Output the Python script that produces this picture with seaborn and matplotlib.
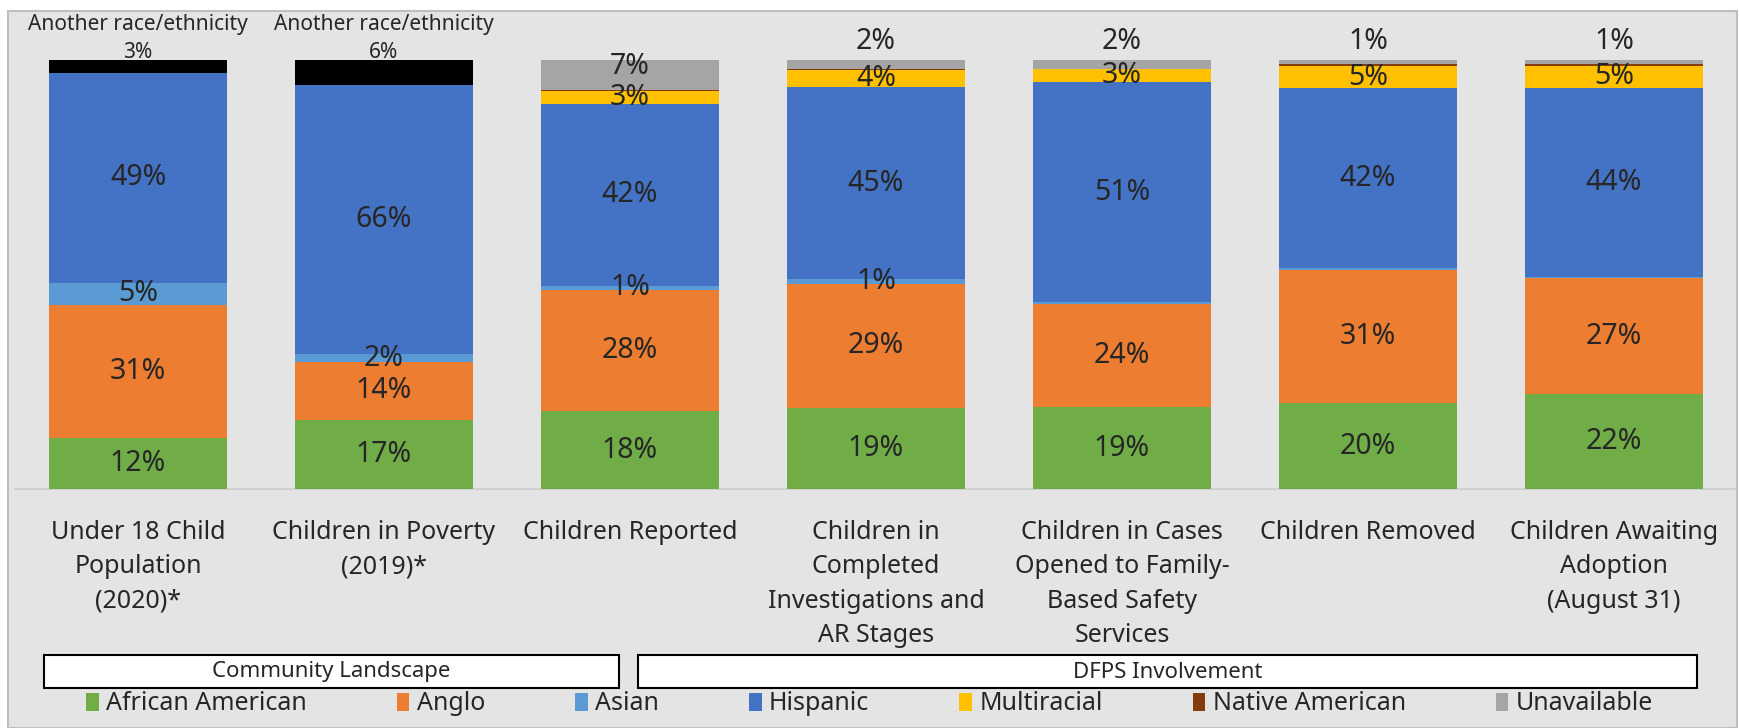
import numpy as np
import pandas as pd
import matplotlib.pyplot as plt
import seaborn as sns
from matplotlib.patches import Rectangle, Patch

categories = [
    "Under 18 Child\nPopulation\n(2020)*",
    "Children in Poverty\n(2019)*",
    "Children Reported",
    "Children in\nCompleted\nInvestigations and\nAR Stages",
    "Children in Cases\nOpened to Family-\nBased Safety\nServices",
    "Children Removed",
    "Children Awaiting\nAdoption\n(August 31)",
]

african_american = [12, 17, 18, 19, 19, 20, 22]
anglo = [31, 14, 28, 29, 24, 31, 27]
asian = [5, 2, 1, 1, 0.5, 0.3, 0.4]
hispanic = [49, 66, 42, 45, 51, 42, 44]
multiracial = [0, 0, 3, 4, 3, 5, 5]
native_american = [0, 0, 0.2, 0.3, 0.2, 0.5, 0.4]
unavailable = [0, 0, 7, 2, 2, 1, 1]
another_race = [3, 6, 0, 0, 0, 0, 0]

series_names = ["African American", "Anglo", "Asian", "Hispanic", "Multiracial",
                "Native American", "Unavailable", "Another race/ethnicity"]
series_values = [african_american, anglo, asian, hispanic, multiracial,
                 native_american, unavailable, another_race]
colors = ["#70AD47", "#ED7D31", "#5B9BD5", "#4472C4", "#FFC000",
          "#843C0C", "#A5A5A5", "#000000"]

df = pd.DataFrame(np.array(series_values).T, columns=series_names)
df.insert(0, "Category", categories)
totals = df[series_names].sum(axis=1)
shares = df[series_names].div(totals, axis=0)
cum = shares.cumsum(axis=1)

sns.set_style("white")
plt.rcParams['font.family'] = ['Noto Sans', 'DejaVu Sans']

W, H = 1739, 728
fig = plt.figure(figsize=(W / 100, H / 100), dpi=100)
fig.patch.set_facecolor("white")

# grey panel with border
fig.add_artist(Rectangle((8 / W, 0), (1737 - 8) / W, (H - 11) / H, transform=fig.transFigure,
                         facecolor="#E4E4E4", edgecolor="#BFBFBF", linewidth=1.5, zorder=0))

ax = fig.add_axes([0, (H - 489) / H, 1, (489 - 60) / H])
ax.set_facecolor("none")

bar_w = 178 / 246
# draw cumulative heights from the top layer down
for name, col in zip(reversed(series_names), reversed(colors)):
    sns.barplot(x=df["Category"], y=cum[name], color=col, saturation=1, width=bar_w,
                errorbar=None, linewidth=0, ax=ax, zorder=2)

ax.set_xlim((0 - 138) / 246, (W - 138) / 246)
ax.set_ylim(0, 1)
ax.set_yticks([])
ax.set_xlabel("")
ax.set_ylabel("")
for s in ax.spines.values():
    s.set_visible(False)
ax.axhline(0, xmin=15 / W, xmax=1735 / W, color="#D0D0D0", lw=1.5, zorder=1, clip_on=False)
ax.tick_params(axis="x", length=0, pad=22, labelsize=18)
for t in ax.get_xticklabels():
    t.set_linespacing(1.5)

# data labels
for i in range(len(categories)):
    for name in series_names:
        v = df.loc[i, name]
        if v < 1:
            continue
        top = cum.loc[i, name]
        h = shares.loc[i, name]
        lab = f"{v:.0f}%"
        if name == "Another race/ethnicity":
            ax.text(i, 1.082, "Another race/ethnicity", ha="center", va="center", fontsize=15,
                    clip_on=False)
            ax.text(i, 1.017, lab, ha="center", va="center", fontsize=15, clip_on=False)
        elif name == "Unavailable" and h < 0.03:
            ax.text(i, 1.042, lab, ha="center", va="center", fontsize=20.5, clip_on=False)
        elif name == "Unavailable":
            ax.text(i, top - h * 0.22, lab, ha="center", va="center", fontsize=20.5, zorder=3)
        else:
            ax.text(i, top - h / 2, lab, ha="center", va="center", fontsize=20.5, zorder=3)

# group boxes
for x0, x1, label in [(44, 619, "Community Landscape"), (638, 1697, "DFPS Involvement")]:
    fig.add_artist(Rectangle((x0 / W, (H - 688) / H), (x1 - x0) / W, 33 / H,
                             transform=fig.transFigure, facecolor="white",
                             edgecolor="black", linewidth=1.5))
    fig.text((x0 + x1) / 2 / W, (H - 672) / H, label, ha="center", va="center", fontsize=16)

handles = [Patch(facecolor=c, edgecolor="none", label=n)
           for n, c in zip(series_names[:7], colors[:7])]
fig.legend(handles=handles, loc="center", bbox_to_anchor=(0.5, (H - 704) / H), ncol=7,
           frameon=False, fontsize=18, handlelength=0.5, handleheight=0.7,
           handletextpad=0.3, columnspacing=3.6)

fig.savefig("out.png", dpi=100)
